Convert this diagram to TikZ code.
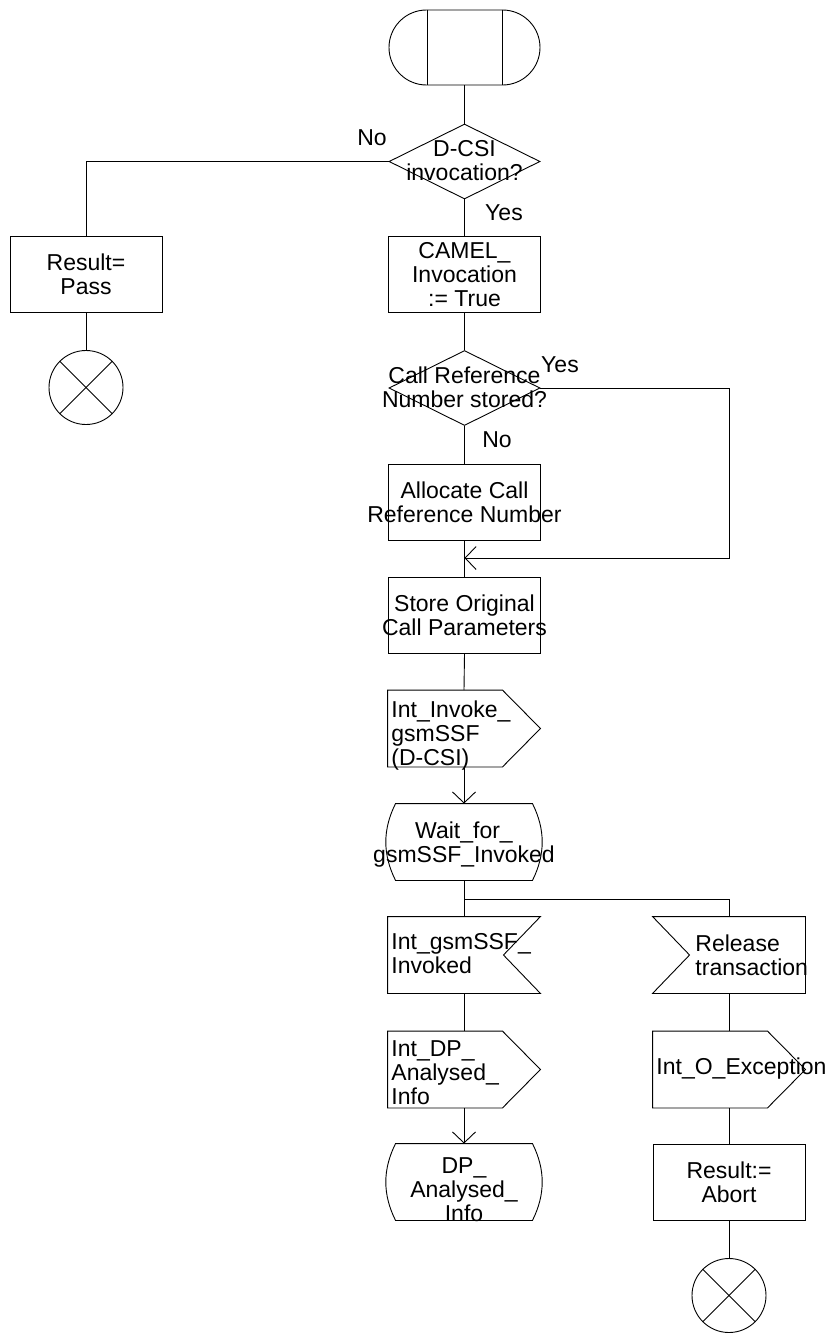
\documentclass[tikz,border=0pt]{standalone}
\usepackage{fontspec}
\setmainfont{Liberation Sans}
\usetikzlibrary{shapes.geometric,shapes.misc,arrows.meta}
\newcommand{\ovl}[1]{\makebox[0pt][c]{#1}}
\begin{document}
\begin{tikzpicture}[x=1pt,y=-1pt, line width=0.9pt,
  every node/.style={font=\fontsize{23}{24}\selectfont},
  box/.style={draw, minimum width=152pt, minimum height=76pt, inner sep=0pt, align=center},
  shapebox/.style={minimum width=152pt, minimum height=76pt, inner sep=0pt},
  dec/.style={diamond, draw, minimum width=151pt, minimum height=75pt, inner sep=0pt},
  stopc/.style={circle, draw, minimum size=74pt, inner sep=0pt},
  txt/.style={inner sep=0pt, align=center},
  txtl/.style={inner sep=0pt, align=left, anchor=west},
  lbl/.style={inner sep=0pt},
  arr/.style={-{Straight Barb[length=11pt,width=23pt]}}
]
\useasboundingbox (0,0) rectangle (835,1333);

% start
\node[rounded rectangle, draw, minimum width=151pt, minimum height=75pt, inner sep=0pt] (start) at (464.5,47.5) {};
\draw ([xshift=-37.5pt]start.north) -- ([xshift=-37.5pt]start.south);
\draw ([xshift=37.5pt]start.north) -- ([xshift=37.5pt]start.south);

% decision 1
\node[dec] (d1) at (464.5,161.5) {};
\node[txt] (d1t) at (464.5,161) {D-CSI\\invocation?};

\node[box] (pass) at (86,274.5) {Result=\\Pass};
\node[stopc] (stop1) at (86,387.5) {};
\draw (stop1.north west) -- (stop1.south east);
\draw (stop1.north east) -- (stop1.south west);

\node[box] (camel) at (464.5,274.5) {CAMEL\_\\Invocation\\:= True};

% decision 2
\node[dec] (d2) at (464.5,388) {};
\node[txt] (d2t) at (464.5,387) {Call Reference\\Number stored?};

\node[box] (alloc) at (464.5,502) {\ovl{Allocate Call}\\\ovl{Reference Number}};
\node[box] (store) at (464.5,615) {\ovl{Store Original}\\\ovl{Call Parameters}};
\coordinate (loopc) at (729,558);
\coordinate (join) at (464.5,558);

% output 1
\node[shapebox] (o1) at (464,728.5) {};
\draw (o1.north west) -- ([xshift=-38pt]o1.north east) -- (o1.east) -- ([xshift=-38pt]o1.south east) -- (o1.south west) -- cycle;
\node[txtl] (o1t) at (391,736) {Int\_Invoke\_\\gsmSSF\\(D-CSI)};

% state 1
\node[shapebox] (s1) at (464,842) {};
\draw ([xshift=8pt]s1.north west) -- ([xshift=-8pt]s1.north east)
  .. controls ([xshift=5pt,yshift=-26pt]s1.north east) and ([xshift=5pt,yshift=26pt]s1.south east) .. ([xshift=-8pt]s1.south east)
  -- ([xshift=8pt]s1.south west)
  .. controls ([xshift=-5pt,yshift=26pt]s1.south west) and ([xshift=-5pt,yshift=-26pt]s1.north west) .. cycle;
\node[txt] (s1t) at (464,845) {Wait\_for\_\\gsmSSF\_Invoked};

\coordinate (br) at (464,899);

% input 1
\node[shapebox] (i1) at (464,955) {};
\draw (i1.north west) -- (i1.north east) -- ([xshift=-37pt]i1.east) -- (i1.south east) -- (i1.south west) -- cycle;
\node[txtl] (i1t) at (391,954) {Int\_gsmSSF\_\\Invoked};

% release input
\node[shapebox] (rel) at (729,955) {};
\draw (rel.north west) -- (rel.north east) -- (rel.south east) -- (rel.south west) -- ([xshift=37pt]rel.west) -- cycle;
\node[txtl] (relt) at (695,955) {Release\\transaction};

% output 2
\node[shapebox] (o2) at (464,1069.5) {};
\draw (o2.north west) -- ([xshift=-38pt]o2.north east) -- (o2.east) -- ([xshift=-38pt]o2.south east) -- (o2.south west) -- cycle;
\node[txtl] (o2t) at (391,1073) {Int\_DP\_\\Analysed\_\\Info};

% state 2
\node[shapebox] (s2) at (464,1182) {};
\draw ([xshift=8pt]s2.north west) -- ([xshift=-8pt]s2.north east)
  .. controls ([xshift=5pt,yshift=-26pt]s2.north east) and ([xshift=5pt,yshift=26pt]s2.south east) .. ([xshift=-8pt]s2.south east)
  -- ([xshift=8pt]s2.south west)
  .. controls ([xshift=-5pt,yshift=26pt]s2.south west) and ([xshift=-5pt,yshift=-26pt]s2.north west) .. cycle;
\node[txt] (s2t) at (464,1190) {DP\_\\Analysed\_\\Info};

% output 3
\node[shapebox] (o3) at (729,1069.5) {};
\draw (o3.north west) -- ([xshift=-38pt]o3.north east) -- (o3.east) -- ([xshift=-38pt]o3.south east) -- (o3.south west) -- cycle;
\node[txtl] (o3t) at (656,1069) {Int\_O\_Exception};

\node[box] (abort) at (729,1182) {Result:=\\Abort};
\node[stopc] (stop2) at (729,1295.5) {};
\draw (stop2.north west) -- (stop2.south east);
\draw (stop2.north east) -- (stop2.south west);

% labels
\node[lbl] (no1) at (372,138) {No};
\node[lbl] (yes1) at (504,213) {Yes};
\node[lbl] (yes2) at (560,365) {Yes};
\node[lbl] (no2) at (497,440) {No};

% connectors
\draw (start.south) -- (d1.north);
\draw (d1.west) -| (pass.north);
\draw (pass.south) -- (stop1.north);
\draw (d1.south) -- (camel.north);
\draw (camel.south) -- (d2.north);
\draw (d2.south) -- (alloc.north);
\draw (alloc.south) -- (store.north);
\draw[arr] (d2.east) -| (loopc) -- (join);
\draw (store.south) -- (o1.north);
\draw[arr] (o1.south) -- (s1.north);
\draw (s1.south) -- (i1.north);
\draw (br) -| (rel.north);
\draw (i1.south) -- (o2.north);
\draw[arr] (o2.south) -- (s2.north);
\draw (rel.south) -- (o3.north);
\draw (o3.south) -- (abort.north);
\draw (abort.south) -- (stop2.north);
\end{tikzpicture}
\end{document}
